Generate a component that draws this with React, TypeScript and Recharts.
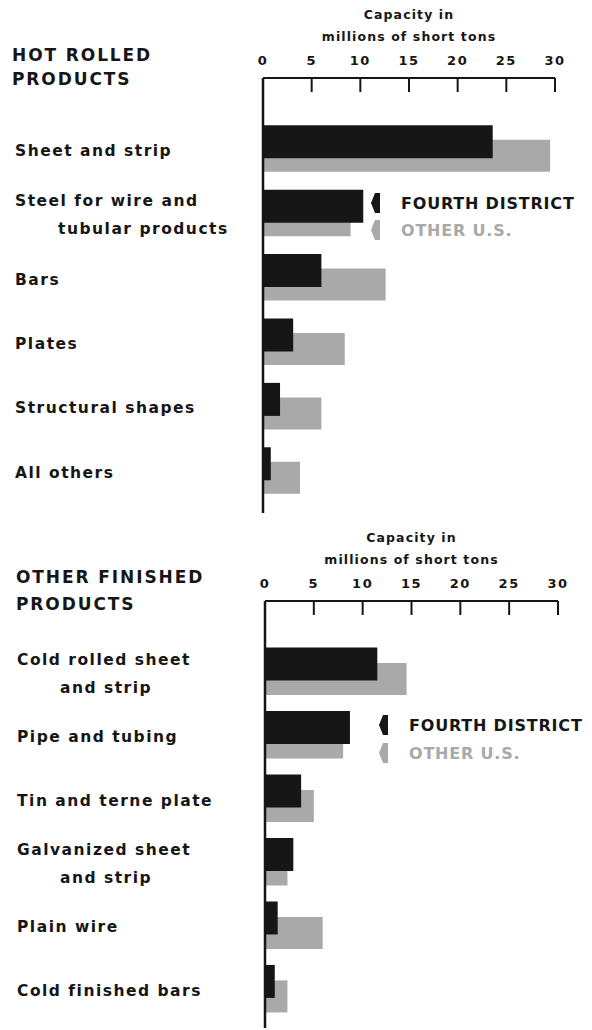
import React from 'react';
import { BarChart, Bar, XAxis, YAxis, Legend } from 'recharts';

const FONT = "'DejaVu Sans', 'Liberation Sans', sans-serif";
const INK = '#161616';
const GRAY = '#a9a9a9';

// capacity in millions of short tons
const hotCategories = [
  'Sheet and strip',
  'Steel for wire and|tubular products',
  'Bars',
  'Plates',
  'Structural shapes',
  'All others',
];
const hotFourth = [23.6, 10.3, 6.0, 3.1, 1.75, 0.8];
const hotOther = [29.5, 9.0, 12.6, 8.4, 6.0, 3.8];

const finishedCategories = [
  'Cold rolled sheet|and strip',
  'Pipe and tubing',
  'Tin and terne plate',
  'Galvanized sheet|and strip',
  'Plain wire',
  'Cold finished bars',
];
const finishedFourth = [11.5, 8.7, 3.7, 2.9, 1.3, 1.0];
const finishedOther = [14.5, 8.0, 5.0, 2.3, 5.9, 2.3];

const capacityTicks = [0, 5, 10, 15, 20, 25, 30];
const seriesNames = { fourth: 'FOURTH DISTRICT', other: 'OTHER U.S.' };

const CategoryTick = (props: any) => {
  const { y, payload, labelDy, labelX } = props;
  const lines = String(payload.value).split('|');
  // tick sits on the black bar; the pair is centred ~7px lower
  const cy = y + 7.25 + labelDy;
  const start = cy - ((lines.length - 1) * 28) / 2;
  return (
    <text fontFamily={FONT} fontWeight={700} fontSize={15.5} fill={INK} letterSpacing={1.5}>
      {lines.map((line, i) => (
        <tspan key={i} x={i === 0 ? labelX : labelX + 43} y={start + i * 28} dominantBaseline="central">
          {line}
        </tspan>
      ))}
    </text>
  );
};

// ticks hang down into the plot, numbers sit above the axis line
const CapacityTick = (props: any) => {
  const { x, payload, axisY } = props;
  return (
    <g>
      <line x1={x} x2={x} y1={axisY} y2={axisY + 14} stroke={INK} strokeWidth={2} />
      <text
        x={x}
        y={axisY - 13}
        textAnchor="middle"
        fontFamily={FONT}
        fontWeight={700}
        fontSize={13}
        letterSpacing={1.5}
        fill={INK}
      >
        {payload.value}
      </text>
    </g>
  );
};

const LegendBox = ({ payload, rowHeight }: any) => {
  const order = [seriesNames.fourth, seriesNames.other];
  const items = [...(payload || [])].sort(
    (a: any, b: any) => order.indexOf(a.value) - order.indexOf(b.value)
  );
  return (
    <div>
      {items.map((item: any) => (
        <div
          key={item.value}
          style={{ display: 'flex', alignItems: 'center', height: rowHeight }}
        >
          <svg width={10} height={22} style={{ marginRight: 20 }}>
            <polygon points="4,1 9,1 9,21 4,21 0,11" fill={item.color} />
          </svg>
          <span
            style={{
              fontFamily: FONT,
              fontWeight: 700,
              fontSize: 16,
              letterSpacing: 0.8,
              color: item.value === seriesNames.other ? GRAY : INK,
            }}
          >
            {item.value}
          </span>
        </div>
      ))}
    </div>
  );
};

interface PanelProps {
  heading: string[];
  headingLeft: number;
  headingTop: number;
  headingLine: number;
  categories: string[];
  fourth: number[];
  other: number[];
  height: number;
  axisY: number;
  plotLeft: number;
  plotRight: number;
  fourthPad: { top: number; bottom: number };
  otherPad: { top: number; bottom: number };
  labelX: number;
  labelDy: number;
  legendLeft: number;
  legendTop: number;
  legendRow: number;
  titleTop: number;
}

const Panel = (p: PanelProps) => {
  const data = p.categories.map((name, i) => ({
    name,
    fourth: p.fourth[i],
    other: p.other[i],
  }));
  const titleCenter = (p.plotLeft + p.plotRight) / 2;
  const titleStyle: React.CSSProperties = {
    position: 'absolute',
    left: titleCenter - 150,
    width: 300,
    textAlign: 'center',
    fontFamily: FONT,
    fontWeight: 700,
    fontSize: 12.5,
    letterSpacing: 1.1,
    color: INK,
    lineHeight: '22px',
  };
  return (
    <div style={{ position: 'relative', width: 592, height: p.height }}>
      <div
        style={{
          position: 'absolute',
          left: p.headingLeft,
          top: p.headingTop,
          fontFamily: FONT,
          fontWeight: 700,
          fontSize: 17,
          letterSpacing: 1.9,
          lineHeight: `${p.headingLine}px`,
          color: INK,
        }}
      >
        {p.heading.map((h) => (
          <div key={h}>{h}</div>
        ))}
      </div>
      <div style={{ ...titleStyle, top: p.titleTop }}>
        Capacity in
        <br />
        millions of short tons
      </div>
      <BarChart
        width={592}
        height={p.height}
        layout="vertical"
        data={data}
        margin={{ top: 0, right: 592 - p.plotRight, bottom: 2, left: 0 }}
        barCategoryGap={0}
        style={{ position: 'absolute', left: 0, top: 0 }}
      >
        <XAxis
          type="number"
          orientation="top"
          domain={[0, 30]}
          ticks={capacityTicks}
          interval={0}
          height={p.axisY}
          tickLine={false}
          axisLine={{ stroke: INK, strokeWidth: 2 }}
          tick={<CapacityTick axisY={p.axisY} />}
        />
        <YAxis
          yAxisId="fourth"
          type="category"
          dataKey="name"
          width={p.plotLeft}
          padding={p.fourthPad}
          interval={0}
          tickLine={false}
          axisLine={{ stroke: INK, strokeWidth: 2.5 }}
          tick={<CategoryTick labelDy={p.labelDy} labelX={p.labelX} />}
        />
        <YAxis
          yAxisId="other"
          type="category"
          dataKey="name"
          hide
          padding={p.otherPad}
        />
        <Bar
          yAxisId="other"
          dataKey="other"
          name={seriesNames.other}
          fill={GRAY}
          barSize={32}
          isAnimationActive={false}
        />
        <Bar
          yAxisId="fourth"
          dataKey="fourth"
          name={seriesNames.fourth}
          fill={INK}
          barSize={33}
          isAnimationActive={false}
        />
        <Legend
          layout="horizontal"
          verticalAlign="middle"
          align="center"
          wrapperStyle={{ left: p.legendLeft, top: p.legendTop, width: 220 }}
          content={(props: any) => <LegendBox {...props} rowHeight={p.legendRow} />}
        />
      </BarChart>
    </div>
  );
};

export default function App() {
  return (
    <div style={{ position: 'absolute', left: 0, top: 0, width: 592, height: 1030, background: '#fff', overflow: 'hidden' }}>
      <Panel
        heading={['HOT ROLLED', 'PRODUCTS']}
        headingLeft={12}
        headingTop={43}
        headingLine={24}
        categories={hotCategories}
        fourth={hotFourth}
        other={hotOther}
        height={515}
        axisY={78}
        plotLeft={263}
        plotRight={555}
        fourthPad={{ top: 31.35, bottom: 17.35 }}
        otherPad={{ top: 45.85, bottom: 2.85 }}
        labelX={15}
        labelDy={2}
        legendLeft={371}
        legendTop={189.5}
        legendRow={27}
        titleTop={4}
      />
      <Panel
        heading={['OTHER FINISHED', 'PRODUCTS']}
        headingLeft={16}
        headingTop={49}
        headingLine={27}
        categories={finishedCategories}
        fourth={finishedFourth}
        other={finishedOther}
        height={515}
        axisY={86}
        plotLeft={265}
        plotRight={558}
        fourthPad={{ top: 31.6, bottom: 14.6 }}
        otherPad={{ top: 46.1, bottom: 0.1 }}
        labelX={17}
        labelDy={2}
        legendLeft={379}
        legendTop={196}
        legendRow={28}
        titleTop={12}
      />
    </div>
  );
}
